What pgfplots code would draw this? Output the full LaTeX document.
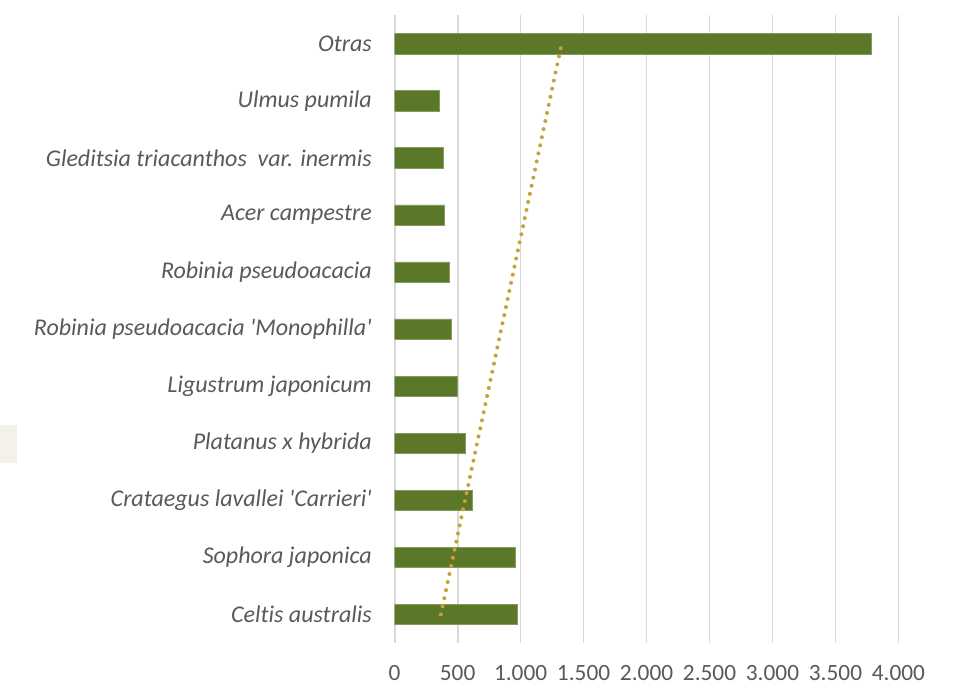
\documentclass[border=0pt]{standalone}
\usepackage{fontspec}
\setmainfont{Carlito}[Ligatures={TeXOff,NoCommon}]
\usepackage{pgfplots}
\pgfplotsset{compat=1.18}
\definecolor{barg}{HTML}{5B7828}
\definecolor{trend}{HTML}{C9A03C}
\definecolor{gridc}{HTML}{D9D9D9}
\definecolor{txt}{HTML}{595959}
\definecolor{beige}{HTML}{F4F0EA}
\begin{document}
\begin{tikzpicture}
\begin{axis}[
  at={(0,0)}, anchor=south west,
  scale only axis, width=377.85pt, height=470.8pt,
  xmin=0, xmax=4000, ymin=0.5, ymax=11.5,
  xtick={0,500,...,4000},
  ytick={1,...,11},
  yticklabels={Celtis australis, Sophora japonica, Crataegus lavallei 'Carrieri', Platanus x hybrida, Ligustrum japonicum, Robinia pseudoacacia 'Monophilla', Robinia pseudoacacia, Acer campestre, Gleditsia triacanthos\ \ var. inermis, Ulmus pumila, Otras},
  xmajorgrids, major grid style={gridc, line width=1.3pt},
  axis line style={draw=none},
  major tick length=0pt,
  tick label style={font=\fontsize{17.5}{20}\selectfont, text=txt},
  yticklabel style={font=\itshape\fontsize{18}{20}\selectfont, inner sep=0pt, anchor=east, xshift=-17pt},
  xticklabel style={inner sep=0pt, anchor=north, yshift=-16.8pt},
  /pgf/number format/1000 sep={.},
  /pgf/number format/assume math mode=true,
]
\addplot[xbar, bar width=15.2pt, fill=barg, draw=barg!75!white, line width=0.4pt]
  coordinates {(970,1) (961,2) (617,3) (561,4) (498,5) (447,6) (431,7) (394,8) (386,9) (357,10) (3788,11)};
\addplot[trend, line width=3pt, line cap=round, dash pattern=on 0pt off 6.2pt]
  coordinates {(367,1) (1326,11)};
\end{axis}
\fill[beige] (-296pt,135.15pt) rectangle (-283.3pt,163.4pt);
\pgfresetboundingbox
\path[use as bounding box] (-296pt,-32.3pt) rectangle (421pt,482.2pt);
\end{tikzpicture}
\end{document}
